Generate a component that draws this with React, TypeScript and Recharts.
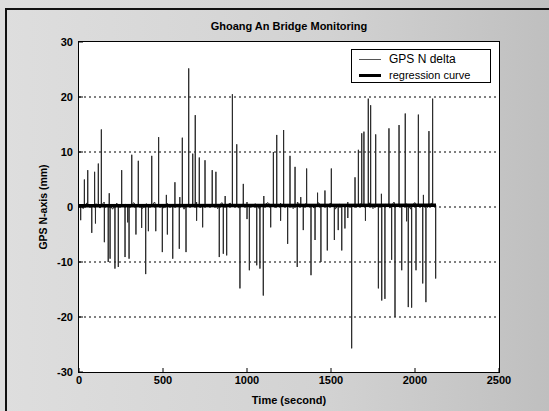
import { LineChart, Line, XAxis, YAxis, CartesianGrid } from "recharts";

// spikes (time in s, delta in mm)
const spikeTime = [
  10, 32, 52, 76, 93, 98, 115, 133, 151, 174, 180, 185, 214, 234, 254, 274, 290, 298, 314, 339, 353,
  373, 397, 413, 433, 457, 474, 496, 520, 526, 558, 571, 597, 600, 615, 637, 653, 677, 692, 700, 716,
  736, 750, 793, 815, 835, 859, 870, 879, 913, 939, 958, 978, 1000, 1014, 1058, 1077, 1097, 1100, 1141,
  1157, 1177, 1200, 1218, 1242, 1256, 1286, 1299, 1320, 1335, 1355, 1381, 1405, 1420, 1440, 1464,
  1478, 1502, 1520, 1543, 1564, 1583, 1600, 1623, 1643, 1663, 1683, 1696, 1705, 1722, 1736, 1766,
  1782, 1800, 1802, 1821, 1845, 1861, 1881, 1905, 1921, 1942, 1950, 1960, 1980, 2006, 2020, 2046,
  2050, 2065, 2083, 2105, 2123,
];
const spikeValue = [
  -2.4, 5.0, 6.7, -4.7, 6.4, -3.0, 7.9, 14.1, -6.4, -10.0, 2.5, -9.4, -11.2, -10.9, 6.7, -9.1, -2.8,
  -9.4, 9.5, -5.0, 8.4, -3.8, -12.2, -4.4, 9.3, -4.4, 12.7, -8.2, 2.2, -5.0, -9.4, 4.5, -7.6, 1.8,
  12.6, -8.2, 25.2, 9.7, 16.7, -2.5, 9.0, -3.7, 8.5, 6.7, 6.4, -9.1, -8.5, 2.0, -8.8, 20.5, 11.4,
  -14.8, 4.2, -2.2, -11.5, -10.6, -11.2, -16.1, 2.0, -3.7, 10.0, 13.1, -2.5, 14.0, -6.7, 9.3, 7.3,
  -10.9, 1.8, -4.2, 7.0, -12.4, -6.0, 2.6, -10.0, 3.0, -7.9, 7.0, -6.0, -4.2, -7.9, -3.9, -2.0,
  -25.7, 5.4, 10.4, 13.4, 13.7, -2.5, 19.7, 18.5, 13.2, -14.8, 2.4, -17.0, -16.7, 14.3, -9.6, -20.0,
  14.9, -11.5, 17.0, -2.6, -18.2, -18.3, -11.5, 16.8, -13.9, 2.2, -17.3, 13.8, 19.7, -13.0,
];

// background jitter, one sample every 25 s
const noiseValue = [
  0.4, -0.3, 0.8, 0.1, 0.6, -0.2, 0.9, 0.3, -0.4, 0.7,
  0.2, 0.5, -0.1, 0.8, 0.4, -0.3, 0.6, 0.1, 0.9, 0.2,
  -0.2, 0.7, 0.4, 0.0, 0.8, -0.4, 0.5, 0.3, 0.9, -0.1,
  0.6, 0.2, 0.4, -0.3, 0.8, 0.1, 0.7, 0.3, -0.2, 0.5,
  0.9, 0.0, 0.6, -0.4, 0.4, 0.8, 0.2, -0.1, 0.7, 0.3,
  0.5, -0.3, 0.9, 0.1, 0.6, 0.2, -0.2, 0.8, 0.4, 0.0,
  0.7, -0.4, 0.5, 0.3, 0.9, 0.1, -0.1, 0.6, 0.4, 0.8,
  -0.3, 0.2, 0.7, 0.5, -0.2, 0.9, 0.3, 0.1, 0.6, -0.4,
  0.8, 0.2, 0.5, -0.1, 0.7, 0.3,
];
const noiseStep = 25;

const regTime = [0, 2125];
const regValue = [0.25, 0.3];

const xTicks = [0, 500, 1000, 1500, 2000, 2500];
const yTicks = [-30, -20, -10, 0, 10, 20, 30];

type Row = { t: number; v?: number; r?: number };

const rows: Row[] = [];
noiseValue.forEach((v, i) => rows.push({ t: i * noiseStep, v }));
spikeTime.forEach((t, i) => {
  rows.push({ t: t - 0.6, v: 0.3 });
  rows.push({ t, v: spikeValue[i] });
  rows.push({ t: t + 0.6, v: 0.3 });
});
regTime.forEach((t, i) => rows.push({ t, r: regValue[i] }));
rows.sort((a, b) => a.t - b.t);

const font = '"Liberation Sans", Arial, sans-serif';
const tickStyle = { fontSize: 11, fontWeight: 700, fill: "#000", fontFamily: font };

function LegendBox() {
  return (
    <div
      style={{
        position: "absolute",
        left: 351,
        top: 49,
        width: 140,
        height: 34,
        boxSizing: "border-box",
        border: "1px solid #000",
        background: "#fff",
        fontFamily: font,
        color: "#000",
      }}
    >
      <div style={{ position: "absolute", left: 7, top: 9, width: 22, borderTop: "1px solid #555" }} />
      <div style={{ position: "absolute", left: 37, top: 2, fontSize: 12, lineHeight: "14px" }}>GPS N delta</div>
      <div style={{ position: "absolute", left: 7, top: 24, width: 22, borderTop: "3px solid #000" }} />
      <div style={{ position: "absolute", left: 37, top: 18, fontSize: 11, lineHeight: "14px" }}>regression curve</div>
    </div>
  );
}

export default function App() {
  return (
    <div
      style={{
        position: "absolute",
        left: 0,
        top: 0,
        width: 549,
        height: 411,
        overflow: "hidden",
        background: "linear-gradient(to right, #dedede 0%, #d2d2d2 60%, #bfbfbf 100%)",
      }}
    >
      <div
        style={{
          position: "absolute",
          left: 5,
          top: 8,
          width: 560,
          height: 420,
          borderTop: "2px solid #111",
          borderLeft: "2px solid #111",
        }}
      />
      <div
        style={{
          position: "absolute",
          left: 78,
          top: 41,
          width: 422,
          height: 332,
          boxSizing: "border-box",
          background: "#fff",
          border: "1.5px solid #000",
        }}
      />
      <div
        style={{
          position: "absolute",
          left: 79,
          top: 19,
          width: 420,
          textAlign: "center",
          fontFamily: font,
          fontSize: 11,
          fontWeight: 700,
          lineHeight: "14px",
          color: "#000",
        }}
      >
        Ghoang An Bridge Monitoring
      </div>
      <div style={{ position: "absolute", left: 0, top: 0 }}>
        <LineChart width={549} height={411} data={rows} margin={{ top: 42, right: 50, bottom: 0, left: 0 }}>
          <CartesianGrid vertical={false} horizontalValues={[-20, -10, 0, 10, 20]} stroke="#000" strokeDasharray="2 3" />
          <XAxis
            dataKey="t"
            type="number"
            domain={[0, 2500]}
            ticks={xTicks}
            axisLine={false}
            tickLine={{ stroke: "#000" }}
            tickSize={-4}
            tickMargin={8}
            height={39}
            tick={tickStyle}
            allowDataOverflow
            label={{
              value: "Time (second)",
              position: "insideBottom",
              offset: 7,
              style: { fontSize: 11, fontWeight: 700, fill: "#000", fontFamily: font },
            }}
          />
          <YAxis
            type="number"
            domain={[-30, 30]}
            ticks={yTicks}
            axisLine={false}
            tickLine={{ stroke: "#000" }}
            tickSize={-4}
            tickMargin={10}
            width={79}
            tick={tickStyle}
            allowDataOverflow
            label={{
              value: "GPS N-axis (mm)",
              angle: -90,
              position: "insideLeft",
              offset: 43,
              style: { textAnchor: "middle", fontSize: 10.5, fontWeight: 700, fill: "#000", fontFamily: font },
            }}
          />
          <Line
            dataKey="v"
            stroke="#2a2a2a"
            strokeWidth={1}
            dot={false}
            connectNulls
            isAnimationActive={false}
          />
          <Line
            dataKey="r"
            stroke="#000"
            strokeWidth={3.5}
            dot={false}
            connectNulls
            isAnimationActive={false}
          />
        </LineChart>
      </div>
      <LegendBox />
    </div>
  );
}
